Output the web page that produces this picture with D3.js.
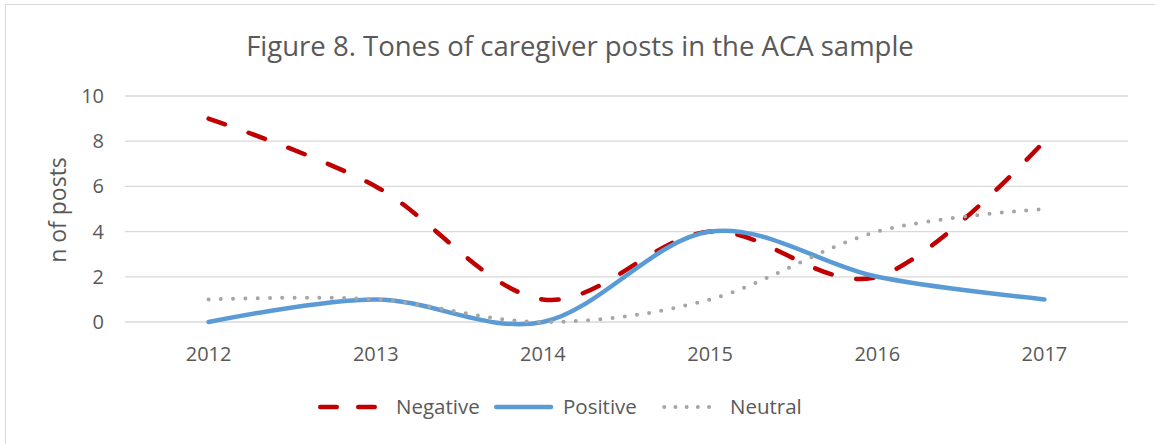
<!DOCTYPE html>
<html>
<head>
<meta charset="utf-8">
<style>
  body { margin: 0; background: #fff; }
  text { font-family: "Open Sans", "Noto Sans", sans-serif; fill: #595959; }
</style>
</head>
<body>
<svg width="1155" height="444"></svg>
<script src="https://cdn.jsdelivr.net/npm/d3@7"></script>
<script>
var years = ['2012', '2013', '2014', '2015', '2016', '2017'];
var negative = [9, 6, 1, 4, 2, 8];
var positive = [0, 1, 0, 4, 2, 1];
var neutral = [1, 1, 0, 1, 4, 5];
var yTicks = [0, 2, 4, 6, 8, 10];

var series = [
  { name: 'Negative', values: negative, color: '#C00000', dash: '17.5,25', legendDash: '16.5,21.5', width: 4.5 },
  { name: 'Positive', values: positive, color: '#5B9BD5', dash: null, legendDash: null, width: 4.5 },
  { name: 'Neutral', values: neutral, color: '#A5A5A5', dash: '0,12.3', legendDash: '0,11.2', width: 4 }
];

var svg = d3.select('svg');
var plotLeft = 125, plotRight = 1128, plotTop = 96, plotBottom = 322;

// chart border
svg.append('rect')
  .attr('x', 5.5).attr('y', 4.5)
  .attr('width', 1160).attr('height', 450)
  .attr('fill', 'none').attr('stroke', '#D9D9D9');

var x = d3.scaleBand().domain(years).range([plotLeft, plotRight]);
var y = d3.scaleLinear().domain([0, 10]).range([plotBottom, plotTop]);

// gridlines
svg.append('g').selectAll('line').data(yTicks).join('line')
  .attr('x1', plotLeft).attr('x2', plotRight)
  .attr('y1', function(d) { return y(d); })
  .attr('y2', function(d) { return y(d); })
  .attr('stroke', '#D9D9D9').attr('stroke-width', 1.3);

// y tick labels
svg.append('g').selectAll('text').data(yTicks).join('text')
  .attr('x', 104).attr('y', function(d) { return y(d); })
  .attr('dy', '0.35em').attr('text-anchor', 'end')
  .style('font-size', '20px')
  .text(function(d) { return d; });

// x tick labels
svg.append('g').selectAll('text').data(years).join('text')
  .attr('x', function(d) { return x(d) + x.bandwidth() / 2; })
  .attr('y', 354).attr('dy', '0.35em').attr('text-anchor', 'middle')
  .style('font-size', '20px')
  .text(function(d) { return d; });

// title
svg.append('text')
  .attr('x', 580).attr('y', 46).attr('dy', '0.35em')
  .attr('text-anchor', 'middle')
  .style('font-size', '27.5px')
  .text('Figure 8. Tones of caregiver posts in the ACA sample');

// y axis title
svg.append('text')
  .attr('transform', 'translate(58, 210) rotate(-90)')
  .attr('dy', '0.35em').attr('text-anchor', 'middle')
  .style('font-size', '23px')
  .text('n of posts');

var line = d3.line()
  .x(function(d, i) { return x(years[i]) + x.bandwidth() / 2; })
  .y(function(d) { return y(d); })
  .curve(d3.curveCardinal.tension(0));

svg.append('g').selectAll('path').data(series).join('path')
  .attr('d', function(s) { return line(s.values); })
  .attr('fill', 'none')
  .attr('stroke', function(s) { return s.color; })
  .attr('stroke-width', function(s) { return s.width; })
  .attr('stroke-dasharray', function(s) { return s.dash; })
  .attr('stroke-linecap', 'round')
  .attr('stroke-linejoin', 'round');

// legend
var legendX = [318, 494, 662];
var legend = svg.append('g').selectAll('g').data(series).join('g')
  .attr('transform', function(s, i) { return 'translate(' + legendX[i] + ', 407)'; });
legend.append('line')
  .attr('x1', 2.25).attr('x2', function(s, i) { return i === 2 ? 58 : 57; })
  .attr('y1', 0).attr('y2', 0)
  .attr('stroke', function(s) { return s.color; })
  .attr('stroke-width', function(s) { return s.width; })
  .attr('stroke-dasharray', function(s) { return s.legendDash; })
  .attr('stroke-linecap', 'round');
legend.append('text')
  .attr('x', function(s, i) { return i === 0 ? 78 : (i === 1 ? 69 : 68); })
  .attr('y', 0).attr('dy', '0.35em')
  .style('font-size', '20.5px')
  .text(function(s) { return s.name; });
</script>
</body>
</html>
